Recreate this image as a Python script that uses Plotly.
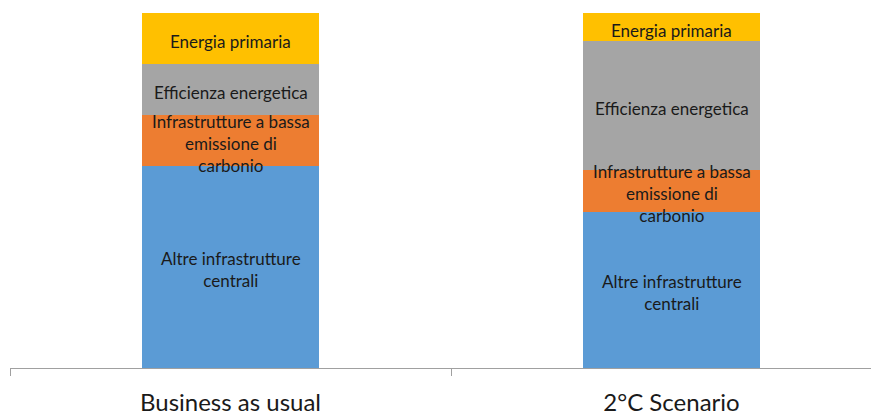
import plotly.graph_objects as go

categories = ["Business as usual", "2°C Scenario"]
series_names = ["Altre infrastrutture<br>centrali",
                "Infrastrutture a bassa<br>emissione di<br>carbonio",
                "Efficienza energetica",
                "Energia primaria"]
altre = [57.0, 44.0]
bassa = [14.4, 11.9]
efficienza = [14.3, 36.1]
primaria = [14.3, 8.0]
colors = ["#5B9BD5", "#ED7D31", "#A5A5A5", "#FFC000"]

xpos = list(range(len(categories)))
series = [altre, bassa, efficienza, primaria]
fig = go.Figure()
for name, vals, col in zip(series_names, series, colors):
    fig.add_trace(go.Bar(
        x=xpos, y=vals, name=name, marker=dict(color=col, line=dict(width=0)),
        width=0.4, hoverinfo="skip", showlegend=False,
    ))

# segment labels drawn on top (centres from the stacked data)
base = [0.0] * len(categories)
for name, vals in zip(series_names, series):
    for xi, b, v in zip(xpos, base, vals):
        fig.add_annotation(
            x=xi, y=b + v / 2, text=name, showarrow=False, yshift=-3,
            xanchor="center", yanchor="middle", align="center",
            font=dict(family="Lato, Open Sans, sans-serif", size=17, color="#1a1a1a"),
        )
    base = [b + v for b, v in zip(base, vals)]

xr = [-0.5, -0.5 + 869 / 441]
fig.update_layout(
    barmode="stack",
    width=871, height=408,
    margin=dict(l=2, r=0, t=5, b=45),
    paper_bgcolor="white", plot_bgcolor="white",
    xaxis=dict(range=xr, tickvals=xpos, ticktext=categories, ticks="",
               showgrid=False, zeroline=False, showline=False,
               tickfont=dict(family="Lato, Open Sans, sans-serif", size=24, color="#1a1a1a"),
               ticklabelstandoff=18),
    xaxis2=dict(range=xr, overlaying="x", anchor="y", side="bottom",
                tickvals=[-0.5, 0.5, 1.5], ticks="outside", ticklen=7,
                tickcolor="#A0A0A0", showticklabels=False, showline=True,
                linecolor="#A0A0A0", linewidth=1, showgrid=False, zeroline=False),
    yaxis=dict(range=[0, 100], visible=False, showgrid=False, zeroline=False),
)
# dummy trace to activate xaxis2
fig.add_trace(go.Scatter(x=[None], y=[None], xaxis="x2", showlegend=False, hoverinfo="skip"))
fig.write_html("out.html")
